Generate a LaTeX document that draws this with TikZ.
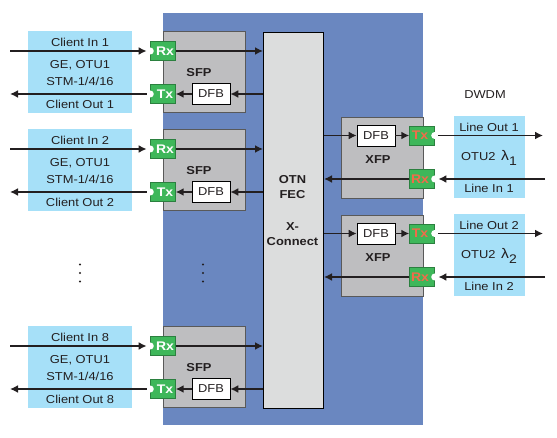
\documentclass[tikz,border=0pt]{standalone}
\usepackage{fontspec}
\setmainfont[FakeStretch=1.12]{Liberation Sans}
\usetikzlibrary{arrows.meta}
\definecolor{bgblue}{HTML}{6A87C0}
\definecolor{sfpgray}{HTML}{BEBEC0}
\definecolor{cgray}{HTML}{DCDDDD}
\definecolor{lblue}{HTML}{A6E0F8}
\definecolor{grn}{HTML}{3EB75A}
\definecolor{txt}{HTML}{231F20}
\definecolor{org}{HTML}{F26B4A}
\tikzset{
  arr/.style={draw=txt, line width=1.6pt, -{Latex[length=8pt,width=8pt]}},
  lbbox/.style={fill=lblue, draw=none, anchor=north west, inner sep=0},
  modbox/.style={fill=sfpgray, draw=black!65, line width=0.6pt, anchor=north west, inner sep=0},
  dfbbox/.style={fill=white, draw=black, line width=0.6pt, minimum width=38, minimum height=21, inner sep=0},
  grnbox/.style={fill=grn, draw=grn!70!black, line width=0.4pt, minimum width=25, minimum height=19, inner sep=0},
  gtxt/.style={inner sep=0, font=\fontsize{12.5}{13}\selectfont\bfseries},
  notch/.style={fill=white, draw=none, circle, minimum size=7, inner sep=0},
  lbl/.style={inner sep=0, text=txt},
  dot/.style={fill=txt, circle, minimum size=2.2, inner sep=0},
}
\begin{document}
\begin{tikzpicture}[x=1pt,y=-1pt, font=\fontsize{11.5}{13}\selectfont, text=txt]
\useasboundingbox (0,0) rectangle (557,438);
% blue background
\fill[bgblue] (163,13) rectangle (423,425);
% central box
\node[fill=cgray, draw=black, line width=1pt, anchor=north west, minimum width=60, minimum height=376, inner sep=0] (otn) at (263,32) {};
\node[lbl, font=\fontsize{11.5}{15}\selectfont\bfseries, align=center] (otntext) at (292.5,211) {OTN\\FEC\\[17pt]X-\\Connect};

% client side
\foreach \k/\T in {1/31, 2/129, 8/326} {
  \node[lbbox, minimum width=104, minimum height=82] (cl\k) at (28,\T) {};
  \node[lbl] (cin\k) at (80,\T+11) {Client In \k};
  \node[lbl] (cge\k) at (80,\T+34) {GE, OTU1};
  \node[lbl] (cstm\k) at (80,\T+50) {STM-1/4/16};
  \node[lbl] (cout\k) at (80,\T+73) {Client Out \k};
  \node[modbox, minimum width=82, minimum height=81] (sfp\k) at (163,\T) {};
  \node[lbl, font=\fontsize{11.5}{13}\selectfont\bfseries] (sfpl\k) at (199,\T+42) {SFP};
  \node[grnbox] (rx\k) at (163,\T+20) {};
  \node[notch] (rxn\k) at (rx\k.west) {};
  \node[gtxt, text=white] (rxt\k) at ([xshift=2pt]rx\k.center) {Rx};
  \node[grnbox] (tx\k) at (163,\T+63) {};
  \node[notch] (txn\k) at (tx\k.west) {};
  \node[gtxt, text=white] (txt\k) at ([xshift=2pt]tx\k.center) {Tx};
  \node[dfbbox] (dfb\k) at (211,\T+63) {DFB};
  \coordinate (cinp\k) at (10,\T+20);
  \coordinate (coutp\k) at (10,\T+63);
  \draw[arr] (cinp\k) -- (rxn\k.west);
  \draw[arr] (rx\k.east) -- (rx\k.east -| otn.west);
  \draw[arr] (dfb\k.east -| otn.west) -- (dfb\k.east);
  \draw[arr] (dfb\k.west) -- (tx\k.east);
  \draw[arr] (txn\k.west) -- (coutp\k);
}

% line side
\node[lbl] (dwdm) at (485,95) {DWDM};
\foreach \k/\T in {1/117, 2/215} {
  \node[lbbox, minimum width=71, minimum height=82] (ln\k) at (454,\T-1) {};
  \node[lbl] (lout\k) at (489,\T+10) {Line Out \k};
  \node[lbl] (lotu\k) at (489,\T+41) {OTU2\enspace{\fontsize{14}{14}\selectfont λ}\raisebox{-5pt}{\fontsize{12.5}{13}\selectfont\k}};
  \node[lbl] (lin\k) at (489,\T+71) {Line In \k};
  \node[modbox, minimum width=82, minimum height=81] (xfp\k) at (341,\T) {};
  \node[lbl, font=\fontsize{11.5}{13}\selectfont\bfseries] (xfpl\k) at (378,\T+43) {XFP};
  \node[dfbbox] (xdfb\k) at (376,\T+18.5) {DFB};
  \node[grnbox] (xtx\k) at (422,\T+18.5) {};
  \node[notch] (xtxn\k) at (xtx\k.east) {};
  \node[gtxt, text=org] (xtxt\k) at ([xshift=-2pt]xtx\k.center) {Tx};
  \node[grnbox] (xrx\k) at (422,\T+62) {};
  \node[notch] (xrxn\k) at (xrx\k.east) {};
  \node[gtxt, text=org] (xrxt\k) at ([xshift=-2pt]xrx\k.center) {Rx};
  \coordinate (loutp\k) at (543,\T+18.5);
  \coordinate (linp\k) at (545,\T+62);
  \draw[arr] (xdfb\k.west -| otn.east) -- (xdfb\k.west);
  \draw[arr] (xdfb\k.east) -- (xtx\k.west);
  \draw[arr] (xtxn\k.east) -- (loutp\k);
  \draw[arr] (linp\k) -- (xrxn\k.east);
  \draw[arr] (xrx\k.west) -- (xrx\k.west -| otn.east);
}

% vertical dots
\foreach \i/\y in {a/264.5, b/273, c/281.5} {
  \node[dot] (dl\i) at (80,\y) {};
  \node[dot] (dr\i) at (203,\y) {};
}
\end{tikzpicture}
\end{document}
